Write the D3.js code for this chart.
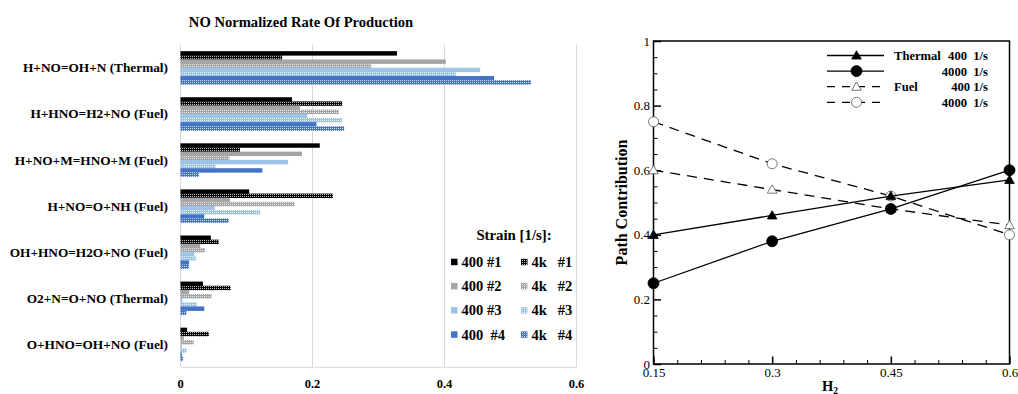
<!DOCTYPE html>
<html>
<head>
<meta charset="utf-8">
<script src="https://cdn.jsdelivr.net/npm/d3@7"></script>
<style>
  body { margin: 0; background: #fff; }
  svg { display: block; font-family: "Liberation Serif", "Times New Roman", serif; }
</style>
</head>
<body>
<svg id="chart" width="1018" height="394"></svg>
<script>
// ---- left chart data ----
const reactions = [
  "H+NO=OH+N (Thermal)",
  "H+HNO=H2+NO (Fuel)",
  "H+NO+M=HNO+M (Fuel)",
  "H+NO=O+NH (Fuel)",
  "OH+HNO=H2O+NO (Fuel)",
  "O2+N=O+NO (Thermal)",
  "O+HNO=OH+NO (Fuel)"
];
const seriesNames = ["400 #1", "4k   #1", "400 #2", "4k   #2", "400 #3", "4k   #3", "400  #4", "4k   #4"];
const s400_1 = [0.328, 0.169, 0.211, 0.104, 0.046, 0.034, 0.010];
const s4k_1  = [0.154, 0.245, 0.090, 0.231, 0.058, 0.076, 0.043];
const s400_2 = [0.402, 0.181, 0.184, 0.075, 0.030, 0.013, 0.005];
const s4k_2  = [0.289, 0.240, 0.074, 0.173, 0.037, 0.047, 0.020];
const s400_3 = [0.454, 0.192, 0.163, 0.052, 0.021, 0.003, 0.002];
const s4k_3  = [0.417, 0.245, 0.053, 0.121, 0.023, 0.025, 0.009];
const s400_4 = [0.475, 0.206, 0.124, 0.036, 0.013, 0.036, 0.002];
const s4k_4  = [0.531, 0.248, 0.028, 0.073, 0.013, 0.009, 0.004];
const xTicks = [0, 0.2, 0.4, 0.6];

// ---- right chart data ----
const h2 = [0.15, 0.3, 0.45, 0.6];
const thermal400  = [0.40, 0.46, 0.52, 0.57];
const thermal4000 = [0.25, 0.38, 0.48, 0.60];
const fuel400     = [0.60, 0.54, 0.48, 0.43];
const fuel4000    = [0.75, 0.62, 0.52, 0.40];

const svg = d3.select("#chart");
const colors = ["#000000", "#000000", "#a5a5a5", "#a5a5a5", "#9dc3e6", "#9dc3e6", "#4472c4", "#4472c4"];
const allSeries = [s400_1, s4k_1, s400_2, s4k_2, s400_3, s4k_3, s400_4, s4k_4];

// dotted fill used by the 4k series
const defs = svg.append("defs");
["#000000", "#a5a5a5", "#9dc3e6", "#4472c4"].forEach((c, i) => {
  const p = defs.append("pattern")
    .attr("id", "pat" + i)
    .attr("width", 2).attr("height", 2)
    .attr("patternUnits", "userSpaceOnUse");
  p.append("rect").attr("width", 2).attr("height", 2).attr("fill", c);
  p.append("rect").attr("width", 1).attr("height", 1).attr("fill", "#fff").attr("opacity", 0.75);
});
const fillOf = i => (i % 2 === 0 ? colors[i] : "url(#pat" + Math.floor(i / 2) + ")");

// ================= left: bar chart =================
const x = d3.scaleLinear().domain([0, 0.6]).range([180.5, 576.5]);
const y = d3.scaleBand().domain(reactions).range([44.7, 367.3]).paddingInner(0.28).paddingOuter(0.14);
const ySub = d3.scaleBand().domain(d3.range(8)).range([0, y.bandwidth()]);

svg.append("text")
  .attr("x", 301).attr("y", 27)
  .attr("text-anchor", "middle")
  .attr("font-size", 14.6).attr("font-weight", "bold")
  .text("NO Normalized Rate Of Production");

// gridlines
svg.append("g")
  .selectAll("line")
  .data(xTicks)
  .join("line")
  .attr("x1", d => x(d)).attr("x2", d => x(d))
  .attr("y1", 44.7).attr("y2", 367.3)
  .attr("stroke", "#d9d9d9").attr("stroke-width", 1);
svg.append("line")
  .attr("x1", x(0)).attr("x2", x(0.6))
  .attr("y1", 367.3).attr("y2", 367.3)
  .attr("stroke", "#d9d9d9");

// bars
allSeries.forEach((vals, si) => {
  svg.append("g")
    .selectAll("rect")
    .data(vals)
    .join("rect")
    .attr("x", x(0))
    .attr("y", (d, i) => y(reactions[i]) + ySub(si))
    .attr("width", d => x(d) - x(0))
    .attr("height", ySub.bandwidth() + 0.3)
    .attr("fill", fillOf(si));
});

// category labels
svg.append("g")
  .selectAll("text")
  .data(reactions)
  .join("text")
  .attr("x", 168)
  .attr("y", d => y(d) + y.bandwidth() / 2)
  .attr("dy", "0.35em")
  .attr("text-anchor", "end")
  .attr("font-size", 13.3).attr("font-weight", "bold")
  .text(d => d);

// x tick labels
svg.append("g")
  .selectAll("text")
  .data(xTicks)
  .join("text")
  .attr("x", d => x(d)).attr("y", 388)
  .attr("text-anchor", "middle")
  .attr("font-size", 12.5).attr("font-weight", "bold")
  .text(d => d === 0 ? "0" : d3.format(".1f")(d));

// legend
const leg = svg.append("g").attr("font-weight", "bold").attr("font-size", 14.5);
leg.append("text").attr("x", 514).attr("y", 235).attr("dy", "0.35em")
  .attr("text-anchor", "middle").attr("font-size", 14.8).text("Strain [1/s]:");
seriesNames.forEach((n, i) => {
  const col = i % 2, row = Math.floor(i / 2);
  const gx = col === 0 ? 451 : 521;
  const gy = 262 + row * 24.2;
  leg.append("rect").attr("x", gx).attr("y", gy - 3.3).attr("width", 6.5).attr("height", 6.5).attr("fill", fillOf(i));
  leg.append("text").attr("x", gx + 10.5).attr("y", gy).attr("dy", "0.35em")
    .style("white-space", "pre").text(n);
});

// ================= right: line chart =================
const rx = d3.scaleLinear().domain([0.15, 0.6]).range([653.5, 1009.5]);
const ry = d3.scaleLinear().domain([0, 1]).range([364, 41]);

const yMajor = [0, 0.2, 0.4, 0.6, 0.8, 1];
const yMinor = d3.range(0, 1.0001, 0.05).filter(v => Math.abs(v * 5 - Math.round(v * 5)) > 1e-6);
const xMajor = [0.15, 0.3, 0.45, 0.6];
const xMinor = d3.range(0.15, 0.6001, 0.03).filter(v => xMajor.every(m => Math.abs(m - v) > 1e-6));

const ax = svg.append("g");
ax.append("g").attr("transform", `translate(${rx.range()[0]},0)`)
  .call(d3.axisLeft(ry).tickValues(yMajor).tickSizeInner(-7.5).tickSizeOuter(0).tickPadding(3.5)
    .tickFormat(d => d3.format("~g")(d)))
  .call(g => g.select(".domain").remove())
  .call(g => g.selectAll("line").attr("stroke", "#000").attr("stroke-width", 1.5))
  .call(g => g.selectAll("text").attr("font-size", 13).attr("fill", "#000").attr("font-family", "Liberation Serif, serif"));
ax.append("g").attr("transform", `translate(${rx.range()[0]},0)`)
  .call(d3.axisLeft(ry).tickValues(yMinor).tickSizeInner(-4).tickSizeOuter(0).tickFormat(""))
  .call(g => g.select(".domain").remove())
  .call(g => g.selectAll("line").attr("stroke", "#000").attr("stroke-width", 1));
ax.append("g").attr("transform", `translate(0,${ry.range()[0]})`)
  .call(d3.axisBottom(rx).tickValues(xMajor).tickSizeInner(-7.5).tickSizeOuter(0).tickPadding(4)
    .tickFormat(d => d3.format("~g")(d)))
  .call(g => g.select(".domain").remove())
  .call(g => g.selectAll("line").attr("stroke", "#000").attr("stroke-width", 1.5))
  .call(g => g.selectAll("text").attr("font-size", 13).attr("fill", "#000").attr("font-family", "Liberation Serif, serif"));
ax.append("g").attr("transform", `translate(0,${ry.range()[0]})`)
  .call(d3.axisBottom(rx).tickValues(xMinor).tickSizeInner(-4).tickSizeOuter(0).tickFormat(""))
  .call(g => g.select(".domain").remove())
  .call(g => g.selectAll("line").attr("stroke", "#000").attr("stroke-width", 1));

// frame
svg.append("rect")
  .attr("x", rx.range()[0]).attr("y", ry.range()[1])
  .attr("width", rx.range()[1] - rx.range()[0]).attr("height", ry.range()[0] - ry.range()[1])
  .attr("fill", "none").attr("stroke", "#000").attr("stroke-width", 1.5);

// axis titles
svg.append("text")
  .attr("transform", `translate(627,${(ry.range()[0] + ry.range()[1]) / 2}) rotate(-90)`)
  .attr("text-anchor", "middle")
  .attr("font-size", 16).attr("font-weight", "bold")
  .text("Path Contribution");
const xt = svg.append("text")
  .attr("x", 830).attr("y", 390.5)
  .attr("text-anchor", "middle")
  .attr("font-size", 14.5).attr("font-weight", "bold");
xt.append("tspan").text("H");
xt.append("tspan").attr("font-size", 9.5).attr("dy", 3).text("2");

const lineGen = d3.line().x((d, i) => rx(h2[i])).y(d => ry(d));
const rSeries = [
  { vals: thermal400, dash: null, marker: "tri", fill: "#000" },
  { vals: thermal4000, dash: null, marker: "circ", fill: "#000" },
  { vals: fuel400, dash: "10,7", marker: "tri", fill: "#fff" },
  { vals: fuel4000, dash: "10,7", marker: "circ", fill: "#fff" }
];
const drawMarker = (g, type, fill, cx, cy) => {
  if (type === "circ") {
    g.append("circle").attr("cx", cx).attr("cy", cy).attr("r", fill === "#000" ? 5.5 : 5)
      .attr("fill", fill).attr("stroke", fill === "#000" ? "#000" : "#555").attr("stroke-width", 0.8);
  } else {
    g.append("path").attr("d", d3.symbol(d3.symbolTriangle, 40)())
      .attr("transform", `translate(${cx},${cy + 0.8})`)
      .attr("fill", fill).attr("stroke", fill === "#000" ? "#000" : "#555").attr("stroke-width", 0.8);
  }
};
// dashed series first, solid on top
[2, 3, 0, 1].forEach(k => {
  const s = rSeries[k];
  const g = svg.append("g");
  g.append("path").datum(s.vals).attr("d", lineGen)
    .attr("fill", "none").attr("stroke", "#000").attr("stroke-width", 1.3)
    .attr("stroke-dasharray", s.dash);
  s.vals.forEach((v, i) => drawMarker(g, s.marker, s.fill, rx(h2[i]), ry(v)));
});

// right legend
const rl = svg.append("g").attr("font-size", 12.6).attr("font-weight", "bold");
const legRows = [
  { lab: "Thermal", txt: "400  1/s", s: rSeries[0] },
  { lab: "", txt: "4000  1/s", s: rSeries[1] },
  { lab: "Fuel", txt: "400 1/s", s: rSeries[2] },
  { lab: "", txt: "4000  1/s", s: rSeries[3] }
];
legRows.forEach((r, i) => {
  const gy = 55.5 + i * 15.6;
  rl.append("line").attr("x1", 827).attr("x2", 884).attr("y1", gy).attr("y2", gy)
    .attr("stroke", "#000").attr("stroke-width", 1.3).attr("stroke-dasharray", r.s.dash ? "8,7" : null);
  drawMarker(rl, r.s.marker, r.s.fill, 856.5, gy);
  if (r.lab) rl.append("text").attr("x", 894).attr("y", gy).attr("dy", "0.35em").text(r.lab);
  rl.append("text").attr("x", 988).attr("y", gy).attr("dy", "0.35em").attr("text-anchor", "end")
    .style("white-space", "pre").text(r.txt);
});
</script>
</body>
</html>
